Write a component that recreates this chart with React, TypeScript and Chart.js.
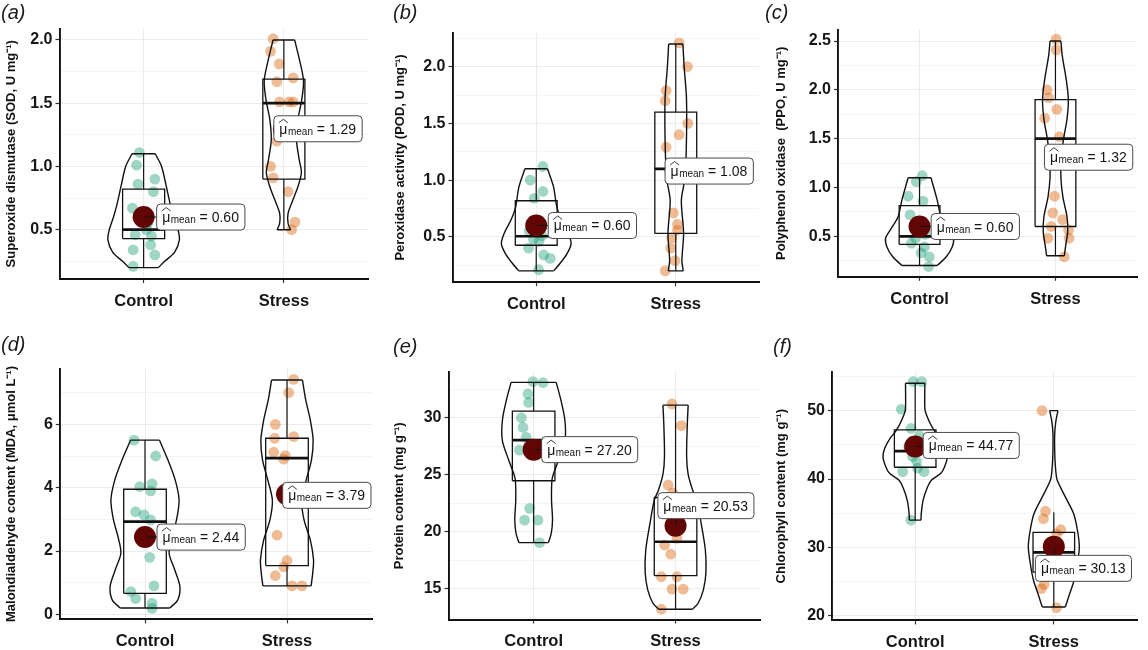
import React, { useEffect, useRef } from 'react';
import { Chart, registerables } from 'chart.js';

Chart.register(...registerables);

const FONT = "'Liberation Sans', Arial, Helvetica, sans-serif";
const PAGE_W = 1148;
const PAGE_H = 650;

// ---------------- shared texts ----------------
const categories = ['Control', 'Stress'];
const panelLetters = ['(a)', '(b)', '(c)', '(d)', '(e)', '(f)'];
const yTitles = [
  'Superoxide dismutase (SOD, U mg\u207B\u00B9)',
  'Peroxidase activity (POD, U mg\u207B\u00B9)',
  'Polyphenol oxidase  (PPO, U mg\u207B\u00B9)',
  'Malondialdehyde content (MDA, \u03BCmol L\u207B\u00B9)',
  'Protein content (mg g\u207B\u00B9)',
  'Chlorophyll content (mg g\u207B\u00B9)',
];

// ---------------- (a) SOD ----------------
const sodCtrl = [1.11, 1.01, 0.86, 0.9, 0.8, 0.67, 0.6, 0.55, 0.5, 0.46, 0.45, 0.38, 0.34, 0.3, 0.21];
const sodCtrlJit = [-0.03, -0.05, -0.04, 0.08, 0.07, -0.08, 0.0, 0.03, 0.02, -0.06, 0.055, 0.05, -0.075, 0.08, -0.075];
const sodStr = [2.01, 1.91, 1.81, 1.7, 1.67, 1.51, 1.51, 1.51, 1.2, 1.0, 0.91, 0.8, 0.56, 0.5];
const sodStrJit = [-0.076, -0.095, -0.033, 0.067, -0.05, -0.03, 0.038, 0.067, -0.05, -0.095, -0.076, 0.03, 0.079, 0.055];
const sodMeans = [0.6, 1.29];
const sodBoxCtrl = [0.2, 0.43, 0.5, 0.82, 1.1];
const sodBoxStr = [0.5, 0.9, 1.5, 1.69, 2.0];
const sodVioCtrlY = [1.1, 1.0, 0.85, 0.7, 0.6, 0.5, 0.42, 0.32, 0.25, 0.2];
const sodVioCtrlW = [0.083, 0.128, 0.16, 0.19, 0.215, 0.245, 0.255, 0.22, 0.15, 0.105];
const sodVioStrY = [2.0, 1.84, 1.68, 1.53, 1.37, 1.21, 1.05, 0.95, 0.84, 0.74, 0.63, 0.55, 0.5];
const sodVioStrW = [0.077, 0.112, 0.14, 0.128, 0.1, 0.09, 0.11, 0.125, 0.1, 0.066, 0.03, 0.03, 0.048];
const sodRange = [0.11, 2.09];
const sodTicks = [0.5, 1.0, 1.5, 2.0];
const sodTickLabels = ['0.5', '1.0', '1.5', '2.0'];
const sodMinor = [0.25, 0.75, 1.25, 1.75];

// ---------------- (b) POD ----------------
const podCtrl = [1.12, 1.0, 0.9, 0.84, 0.62, 0.55, 0.51, 0.48, 0.46, 0.4, 0.34, 0.31, 0.21];
const podCtrlJit = [0.048, -0.043, 0.048, -0.014, 0.0, -0.05, 0.04, -0.02, 0.02, -0.055, 0.053, 0.1, 0.017];
const podStr = [2.21, 2.0, 1.79, 1.7, 1.5, 1.4, 1.29, 0.71, 0.61, 0.56, 0.49, 0.4, 0.29, 0.2];
const podStrJit = [0.024, 0.084, -0.069, -0.076, 0.086, 0.024, -0.069, -0.017, 0.012, 0.012, -0.029, -0.036, -0.005, -0.076];
const podMeans = [0.6, 1.08];
const podBoxCtrl = [0.2, 0.426, 0.505, 0.818, 1.1];
const podBoxStr = [0.2, 0.53, 1.1, 1.6, 2.2];
const podVioCtrlY = [1.1, 0.94, 0.76, 0.65, 0.53, 0.44, 0.35, 0.26, 0.2];
const podVioCtrlW = [0.081, 0.124, 0.148, 0.18, 0.23, 0.25, 0.22, 0.167, 0.125];
const podVioStrY = [2.2, 2.0, 1.71, 1.26, 1.0, 0.82, 0.53, 0.29, 0.2];
const podVioStrW = [0.051, 0.06, 0.077, 0.075, 0.063, 0.04, 0.056, 0.044, 0.054];
const podRange = [0.1, 2.3];
const podTicks = [0.5, 1.0, 1.5, 2.0];
const podTickLabels = ['0.5', '1.0', '1.5', '2.0'];
const podMinor = [0.25, 0.75, 1.25, 1.75, 2.25];

// ---------------- (c) PPO ----------------
const ppoCtrl = [1.12, 1.06, 0.91, 0.86, 0.72, 0.6, 0.52, 0.48, 0.43, 0.39, 0.33, 0.29, 0.19];
const ppoCtrlJit = [0.02, -0.024, -0.084, 0.026, -0.07, 0.0, 0.04, -0.03, -0.06, 0.036, 0.012, 0.072, 0.067];
const ppoStr = [2.52, 2.41, 2.0, 1.92, 1.8, 1.71, 1.52, 0.91, 0.74, 0.67, 0.6, 0.565, 0.48, 0.48, 0.29];
const ppoStrJit = [0.005, 0.005, -0.062, -0.05, 0.01, -0.079, 0.029, -0.007, -0.019, 0.053, -0.031, 0.096, -0.055, 0.1, 0.065];
const ppoMeans = [0.6, 1.32];
const ppoBoxCtrl = [0.2, 0.418, 0.5, 0.814, 1.1];
const ppoBoxStr = [0.3, 0.6, 1.5, 1.9, 2.5];
const ppoVioCtrlY = [1.1, 0.87, 0.7, 0.565, 0.48, 0.39, 0.29, 0.2];
const ppoVioCtrlW = [0.084, 0.13, 0.158, 0.215, 0.25, 0.24, 0.197, 0.13];
const ppoVioStrY = [2.5, 2.35, 2.1, 1.9, 1.7, 1.5, 1.3, 1.1, 0.9, 0.7, 0.55, 0.4, 0.3];
const ppoVioStrW = [0.04, 0.05, 0.08, 0.095, 0.085, 0.06, 0.042, 0.04, 0.055, 0.085, 0.09, 0.075, 0.065];
const ppoRange = [0.085, 2.615];
const ppoTicks = [0.5, 1.0, 1.5, 2.0, 2.5];
const ppoTickLabels = ['0.5', '1.0', '1.5', '2.0', '2.5'];
const ppoMinor = [0.25, 0.75, 1.25, 1.75, 2.25];

// ---------------- (d) MDA ----------------
const mdaCtrl = [5.5, 5.0, 4.12, 4.03, 3.9, 3.24, 3.14, 2.98, 2.44, 1.8, 0.9, 0.72, 0.5, 0.35, 0.19];
const mdaCtrlJit = [-0.077, 0.075, 0.05, -0.037, 0.04, -0.066, -0.007, 0.04, 0.0, 0.033, 0.063, -0.1, -0.066, 0.05, 0.05];
const mdaStr = [7.42, 7.0, 6.0, 5.61, 5.56, 5.12, 5.01, 4.9, 2.5, 1.7, 1.5, 1.22, 0.9, 0.9];
const mdaStrJit = [0.047, 0.012, -0.082, 0.047, -0.087, -0.094, -0.012, -0.023, -0.07, 0.0, -0.023, -0.082, 0.035, 0.105];
const mdaMeans = [2.44, 3.79];
const mdaBoxCtrl = [0.2, 0.66, 2.93, 3.95, 5.5];
const mdaBoxStr = [0.9, 1.54, 4.93, 5.56, 7.4];
const mdaVioCtrlY = [5.5, 4.87, 4.24, 3.61, 2.98, 2.45, 1.93, 1.4, 0.87, 0.45, 0.2];
const mdaVioCtrlW = [0.102, 0.162, 0.213, 0.24, 0.222, 0.19, 0.17, 0.21, 0.246, 0.23, 0.174];
const mdaVioStrY = [7.4, 6.77, 6.14, 5.5, 4.87, 4.24, 3.61, 2.98, 2.35, 1.72, 1.3, 0.9];
const mdaVioStrW = [0.109, 0.132, 0.164, 0.184, 0.172, 0.135, 0.103, 0.12, 0.164, 0.187, 0.181, 0.17];
const mdaRange = [-0.16, 7.76];
const mdaTicks = [0, 2, 4, 6];
const mdaTickLabels = ['0', '2', '4', '6'];
const mdaMinor = [1, 3, 5, 7];

// ---------------- (e) Protein ----------------
const proCtrl = [33.16, 33.07, 32.08, 31.34, 30.0, 29.15, 28.27, 27.7, 27.16, 22.05, 21.02, 21.02, 19.04];
const proCtrlJit = [-0.005, 0.066, -0.04, -0.035, -0.087, -0.075, -0.052, 0.0, -0.1, -0.028, -0.064, 0.03, 0.042];
const proStr = [31.2, 29.3, 24.1, 23.4, 20.5, 19.42, 18.83, 18.04, 16.05, 16.05, 14.97, 14.97, 13.2];
const proStrJit = [-0.025, 0.04, -0.052, -0.02, 0.0, 0.01, -0.077, -0.034, -0.1, 0.01, -0.025, 0.054, -0.1];
const proMeans = [27.2, 20.53];
const proBoxCtrl = [19.04, 24.47, 28.04, 30.58, 33.1];
const proBoxStr = [13.2, 16.14, 19.12, 23.0, 31.1];
const proVioCtrlY = [33.1, 31.55, 29.8, 28.04, 26.29, 25.12, 24.53, 22.78, 21.02, 19.85, 19.04];
const proVioCtrlW = [0.159, 0.192, 0.22, 0.221, 0.176, 0.141, 0.129, 0.126, 0.133, 0.124, 0.104];
const proVioStrY = [31.1, 29.5, 26.6, 25.1, 23.66, 22.8, 20.75, 18.4, 16.4, 14.9, 13.75, 13.2];
const proVioStrW = [0.089, 0.083, 0.078, 0.088, 0.12, 0.149, 0.18, 0.21, 0.214, 0.196, 0.16, 0.12];
const proRange = [12.3, 34.0];
const proTicks = [15, 20, 25, 30];
const proTickLabels = ['15', '20', '25', '30'];
const proMinor = [12.5, 17.5, 22.5, 27.5, 32.5];

// ---------------- (f) Chlorophyll ----------------
const chlCtrl = [54.24, 54.24, 50.2, 47.4, 46.3, 44.74, 43.3, 42.6, 41.6, 41.1, 41.1, 34.0];
const chlCtrlJit = [-0.014, 0.047, -0.1, -0.03, 0.03, -0.047, -0.019, 0.01, 0.017, -0.09, 0.064, -0.031];
const chlStr = [50.0, 35.3, 34.2, 32.6, 32.0, 30.5, 29.8, 24.6, 24.0, 21.2];
const chlStrJit = [-0.085, -0.06, -0.075, 0.05, 0.02, 0.035, -0.01, -0.07, -0.09, 0.02];
const chlMeans = [44.77, 30.13];
const chlBoxCtrl = [34.0, 41.73, 44.1, 47.18, 54.0];
const chlBoxStr = [21.3, 26.4, 29.3, 32.22, 35.14];
const chlVioCtrlY = [54, 52, 50, 48.5, 47, 46, 44.5, 43.2, 41.7, 40.85, 39.87, 38.85, 36.9, 35.0, 34];
const chlVioCtrlW = [0.07, 0.069, 0.072, 0.1, 0.14, 0.18, 0.22, 0.232, 0.21, 0.185, 0.118, 0.089, 0.057, 0.044, 0.042];
const chlVioStrY = [50, 48.5, 46.5, 43, 41, 39.87, 37.4, 35.0, 32.56, 30.1, 27.7, 25.25, 22.8, 21.3];
const chlVioStrW = [0.03, 0.015, 0.006, 0.008, 0.015, 0.024, 0.083, 0.142, 0.17, 0.184, 0.17, 0.147, 0.107, 0.083];
const chlRange = [19.35, 55.65];
const chlTicks = [20, 30, 40, 50];
const chlTickLabels = ['20', '30', '40', '50'];
const chlMinor = [25, 35, 45, 55];

// ---------------- assembled tables ----------------
type Group = { values: number[]; jitter: number[]; box: number[]; vy: number[]; vw: number[] };
type PanelData = {
  groups: Group[];
  means: number[];
  range: number[];
  major: number[];
  majorLabels: string[];
  minor: number[];
};

const panelData: PanelData[] = [
  {
    groups: [
      { values: sodCtrl, jitter: sodCtrlJit, box: sodBoxCtrl, vy: sodVioCtrlY, vw: sodVioCtrlW },
      { values: sodStr, jitter: sodStrJit, box: sodBoxStr, vy: sodVioStrY, vw: sodVioStrW },
    ],
    means: sodMeans, range: sodRange, major: sodTicks, majorLabels: sodTickLabels, minor: sodMinor,
  },
  {
    groups: [
      { values: podCtrl, jitter: podCtrlJit, box: podBoxCtrl, vy: podVioCtrlY, vw: podVioCtrlW },
      { values: podStr, jitter: podStrJit, box: podBoxStr, vy: podVioStrY, vw: podVioStrW },
    ],
    means: podMeans, range: podRange, major: podTicks, majorLabels: podTickLabels, minor: podMinor,
  },
  {
    groups: [
      { values: ppoCtrl, jitter: ppoCtrlJit, box: ppoBoxCtrl, vy: ppoVioCtrlY, vw: ppoVioCtrlW },
      { values: ppoStr, jitter: ppoStrJit, box: ppoBoxStr, vy: ppoVioStrY, vw: ppoVioStrW },
    ],
    means: ppoMeans, range: ppoRange, major: ppoTicks, majorLabels: ppoTickLabels, minor: ppoMinor,
  },
  {
    groups: [
      { values: mdaCtrl, jitter: mdaCtrlJit, box: mdaBoxCtrl, vy: mdaVioCtrlY, vw: mdaVioCtrlW },
      { values: mdaStr, jitter: mdaStrJit, box: mdaBoxStr, vy: mdaVioStrY, vw: mdaVioStrW },
    ],
    means: mdaMeans, range: mdaRange, major: mdaTicks, majorLabels: mdaTickLabels, minor: mdaMinor,
  },
  {
    groups: [
      { values: proCtrl, jitter: proCtrlJit, box: proBoxCtrl, vy: proVioCtrlY, vw: proVioCtrlW },
      { values: proStr, jitter: proStrJit, box: proBoxStr, vy: proVioStrY, vw: proVioStrW },
    ],
    means: proMeans, range: proRange, major: proTicks, majorLabels: proTickLabels, minor: proMinor,
  },
  {
    groups: [
      { values: chlCtrl, jitter: chlCtrlJit, box: chlBoxCtrl, vy: chlVioCtrlY, vw: chlVioCtrlW },
      { values: chlStr, jitter: chlStrJit, box: chlBoxStr, vy: chlVioStrY, vw: chlVioStrW },
    ],
    means: chlMeans, range: chlRange, major: chlTicks, majorLabels: chlTickLabels, minor: chlMinor,
  },
];

// ---------------- layout (page pixels) ----------------
// area: [left, top, right, bottom]
const panelLayout = [
  { area: [59.5, 28.6, 368, 279], titleX: 11.7, letter: [1, 19], labelOff: [[13, 0], [-10, -1]] },
  { area: [452.5, 32.7, 759.5, 282.2], titleX: 400, letter: [393, 19], labelOff: [[12, 0], [-10.7, 0]] },
  { area: [838, 29.8, 1144.6, 276.8], titleX: 781.5, letter: [765, 19], labelOff: [[11.6, 0], [-11, 1]] },
  { area: [59.8, 368.6, 372.2, 619.4], titleX: 11.5, letter: [1, 350.5], labelOff: [[12, 0], [-4.3, 1]] },
  { area: [448.5, 372.1, 760.7, 619.5], titleX: 399, letter: [393, 353], labelOff: [[8, 0], [-17.7, -20]] },
  { area: [832, 372, 1141, 620.4], titleX: 781.5, letter: [773, 353], labelOff: [[8, -1], [-18.4, 21.7]] },
];

// ---------------- styles ----------------
const pointColors = ['rgba(27,158,119,0.42)', 'rgba(217,95,2,0.42)'];
const meanColor = '#620505';
const lineColor = '#111111';
const BOX_HALF = 0.15;
const TEXT_COLOR = '#161616';
const TITLE_SIZE = 13;

function lineDs(data: { x: number; y: number }[], width: number, order: number, tension = 0) {
  return {
    data,
    showLine: true,
    borderColor: lineColor,
    borderWidth: width,
    backgroundColor: 'rgba(0,0,0,0)',
    pointRadius: 0,
    pointHoverRadius: 0,
    pointHitRadius: 0,
    tension,
    fill: false,
    order,
  };
}

function drawMeanLabel(
  ctx: CanvasRenderingContext2D,
  left: number,
  cy: number,
  valueText: string,
  dotX: number,
  dotY: number
) {
  const big = `14px ${FONT}`;
  const small = `10px ${FONT}`;
  ctx.save();
  ctx.font = big;
  const wMu = ctx.measureText('\u03BC').width;
  const rest = ' = ' + valueText;
  const wRest = ctx.measureText(rest).width;
  ctx.font = small;
  const wSub = ctx.measureText('mean').width;
  const padL = 5.5;
  const padR = 6;
  const h = 26;
  const w = padL + wMu + 0.5 + wSub + wRest + padR;
  const top = cy - h / 2;
  // connector segment
  const nx = Math.max(left, Math.min(dotX, left + w));
  const ny = Math.max(top, Math.min(dotY, top + h));
  if (Math.hypot(nx - dotX, ny - dotY) > 2) {
    ctx.beginPath();
    ctx.moveTo(dotX + 1, dotY);
    ctx.lineTo(nx, ny);
    ctx.strokeStyle = '#111';
    ctx.lineWidth = 1;
    ctx.stroke();
  }
  // box
  ctx.beginPath();
  if ((ctx as any).roundRect) (ctx as any).roundRect(left, top, w, h, 4);
  else ctx.rect(left, top, w, h);
  ctx.fillStyle = '#ffffff';
  ctx.fill();
  ctx.strokeStyle = '#4a4a4a';
  ctx.lineWidth = 1;
  ctx.stroke();
  // text
  const base = cy + 5;
  const hx = left + padL;
  ctx.fillStyle = '#151515';
  ctx.textAlign = 'left';
  ctx.textBaseline = 'alphabetic';
  ctx.font = big;
  ctx.fillText('\u03BC', hx, base);
  ctx.beginPath();
  ctx.moveTo(hx - 0.5, base - 11);
  ctx.lineTo(hx + wMu / 2, base - 14.5);
  ctx.lineTo(hx + wMu + 0.5, base - 11);
  ctx.lineWidth = 0.9;
  ctx.strokeStyle = '#222';
  ctx.stroke();
  ctx.font = small;
  ctx.fillText('mean', hx + wMu + 0.5, base + 1);
  ctx.font = big;
  ctx.fillText(rest, hx + wMu + 0.5 + wSub, base);
  ctx.restore();
}

function buildConfig(pi: number): any {
  const P = panelData[pi];
  const L = panelLayout[pi];
  const [aL, aT, aR, aB] = L.area;
  const datasets: any[] = [];

  P.groups.forEach((g, gi) => {
    const cx = gi + 1;
    const n = g.vy.length;
    // violin
    datasets.push(lineDs(g.vy.map((y, k) => ({ x: cx - g.vw[k], y })), 1.4, 1, 0.3));
    datasets.push(lineDs(g.vy.map((y, k) => ({ x: cx + g.vw[k], y })), 1.4, 1, 0.3));
    datasets.push(lineDs([{ x: cx - g.vw[0], y: g.vy[0] }, { x: cx + g.vw[0], y: g.vy[0] }], 1.4, 1));
    datasets.push(
      lineDs([{ x: cx - g.vw[n - 1], y: g.vy[n - 1] }, { x: cx + g.vw[n - 1], y: g.vy[n - 1] }], 1.4, 1)
    );
    // box
    const [mn, q1, md, q3, mx] = g.box;
    datasets.push(
      lineDs(
        [
          { x: cx - BOX_HALF, y: q1 },
          { x: cx + BOX_HALF, y: q1 },
          { x: cx + BOX_HALF, y: q3 },
          { x: cx - BOX_HALF, y: q3 },
          { x: cx - BOX_HALF, y: q1 },
        ],
        1.3,
        2
      )
    );
    datasets.push(lineDs([{ x: cx - BOX_HALF, y: md }, { x: cx + BOX_HALF, y: md }], 2.7, 2));
    datasets.push(lineDs([{ x: cx, y: q3 }, { x: cx, y: mx }], 1.2, 2));
    datasets.push(lineDs([{ x: cx, y: mn }, { x: cx, y: q1 }], 1.2, 2));
    // jittered points
    datasets.push({
      data: g.values.map((v, k) => ({ x: cx + g.jitter[k], y: v })),
      showLine: false,
      pointRadius: 5.4,
      pointHoverRadius: 5.4,
      pointBackgroundColor: pointColors[gi],
      pointBorderWidth: 0,
      pointBorderColor: 'rgba(0,0,0,0)',
      order: 3,
    });
  });

  datasets.push({
    data: P.means.map((m, gi) => ({ x: gi + 1, y: m })),
    showLine: false,
    pointRadius: 11,
    pointHoverRadius: 11,
    pointBackgroundColor: meanColor,
    pointBorderWidth: 0,
    pointBorderColor: 'rgba(0,0,0,0)',
    order: 0,
  });

  const isMajor = (v: number) => P.major.some((t) => Math.abs(t - v) < 1e-6);
  const allTicks = [...P.major, ...P.minor].sort((a, b) => a - b);

  const overlay = {
    id: 'overlay' + pi,
    afterDatasetsDraw(chart: any) {
      const ctx = chart.ctx as CanvasRenderingContext2D;
      const xs = chart.scales.x;
      const ys = chart.scales.y;
      P.means.forEach((m, gi) => {
        const px = xs.getPixelForValue(gi + 1);
        const py = ys.getPixelForValue(m);
        const [dx, dy] = L.labelOff[gi];
        drawMeanLabel(ctx, px + dx, py + dy, m.toFixed(2), px, py);
      });
    },
    afterDraw(chart: any) {
      const ctx = chart.ctx as CanvasRenderingContext2D;
      ctx.save();
      ctx.font = `italic 20px ${FONT}`;
      ctx.fillStyle = '#1a1a1a';
      ctx.textAlign = 'left';
      ctx.textBaseline = 'alphabetic';
      ctx.fillText(panelLetters[pi], L.letter[0], L.letter[1]);
      ctx.restore();
    },
  };

  return {
    type: 'scatter',
    data: { datasets },
    options: {
      animation: false,
      responsive: false,
      events: [],
      layout: { padding: { left: 0, top: aT, right: PAGE_W - aR, bottom: 0 } },
      plugins: { legend: { display: false }, tooltip: { enabled: false } },
      scales: {
        x: {
          type: 'linear',
          position: 'bottom',
          min: 0.4,
          max: 2.6,
          afterBuildTicks: (s: any) => {
            s.ticks = categories.map((_, i) => ({ value: i + 1 }));
          },
          afterFit: (s: any) => {
            s.height = PAGE_H - aB;
          },
          ticks: {
            callback: (v: number) => categories[Math.round(v) - 1] ?? '',
            font: { family: FONT, size: 16.5, weight: 'bold' },
            color: TEXT_COLOR,
            padding: 8.5,
            autoSkip: false,
            maxRotation: 0,
            minRotation: 0,
          },
          grid: {
            color: '#ebebeb',
            lineWidth: 1,
            tickColor: '#333',
            tickLength: 4,
            tickWidth: 1.2,
          },
          border: { display: true, color: '#111', width: 1.9 },
        },
        y: {
          type: 'linear',
          position: 'left',
          min: P.range[0],
          max: P.range[1],
          afterBuildTicks: (s: any) => {
            s.ticks = allTicks.map((v) => ({ value: v }));
          },
          afterFit: (s: any) => {
            s.width = aL;
          },
          ticks: {
            callback: (v: number) => {
              const k = P.major.findIndex((t) => Math.abs(t - v) < 1e-6);
              return k >= 0 ? P.majorLabels[k] : '';
            },
            font: { family: FONT, size: 16, weight: 'bold' },
            color: TEXT_COLOR,
            padding: 3,
            autoSkip: false,
          },
          grid: {
            color: (c: any) => (c.tick && isMajor(c.tick.value) ? '#ebebeb' : '#f4f4f4'),
            lineWidth: 1,
            tickColor: (c: any) => (c.tick && isMajor(c.tick.value) ? '#333' : 'rgba(0,0,0,0)'),
            tickLength: 4,
            tickWidth: 1.2,
          },
          border: { display: true, color: '#111', width: 1.9 },
          title: {
            display: true,
            text: yTitles[pi],
            font: { family: FONT, size: TITLE_SIZE, weight: 'bold' },
            color: '#111',
            padding: { top: L.titleX - (TITLE_SIZE * 1.2) / 2, bottom: 0 },
          },
        },
      },
    },
    plugins: [overlay],
  };
}

export default function App() {
  const refs = useRef<(HTMLCanvasElement | null)[]>([]);

  useEffect(() => {
    document.body.style.margin = '0';
    const charts = panelData.map((_, i) => new Chart(refs.current[i] as HTMLCanvasElement, buildConfig(i)));
    return () => {
      charts.forEach((c) => c.destroy());
    };
  }, []);

  return (
    <div style={{ position: 'relative', width: PAGE_W, height: PAGE_H, background: '#ffffff', overflow: 'hidden' }}>
      {panelData.map((_, i) => (
        <canvas
          key={i}
          ref={(el) => {
            refs.current[i] = el;
          }}
          width={PAGE_W}
          height={PAGE_H}
          style={{ position: 'absolute', left: 0, top: 0, width: PAGE_W, height: PAGE_H }}
        />
      ))}
    </div>
  );
}
